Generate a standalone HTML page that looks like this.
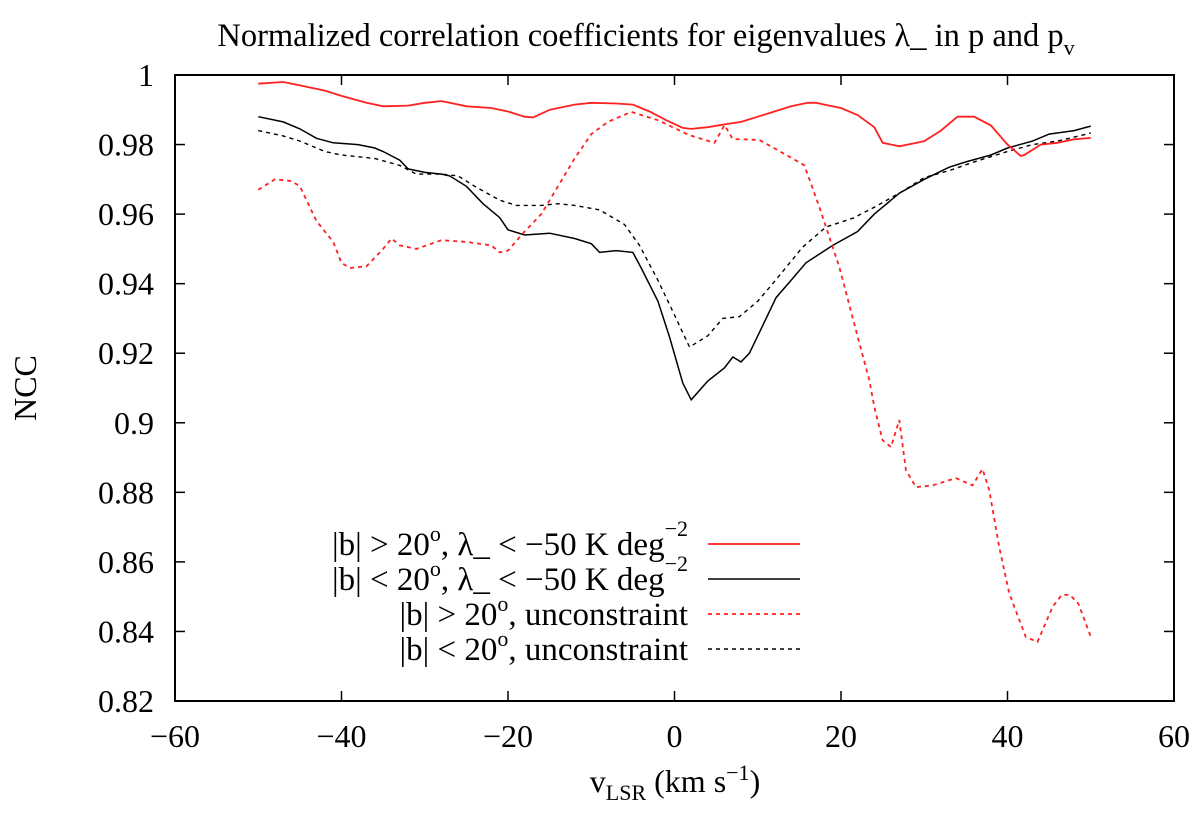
<!DOCTYPE html>
<html><head><meta charset="utf-8"><style>
body{margin:0;background:#fff;}
svg text{font-family:"Liberation Serif",serif;fill:#000;}
</style></head><body>
<svg id="chart" width="1200" height="816" viewBox="0 0 1200 816">
<text x="646" y="46" font-size="32.5" text-anchor="middle">Normalized correlation coefficients for eigenvalues λ_ in p and p<tspan font-size="22" dy="9">v</tspan></text>
<g id="axes"></g>
<g id="series"></g>
<text x="675" y="792" font-size="32" text-anchor="middle">v<tspan font-size="22" dy="8">LSR</tspan><tspan dy="-8"> (km s</tspan><tspan font-size="22" dy="-12">−1</tspan><tspan dy="12">)</tspan></text>
<text transform="translate(36,388) rotate(-90)" font-size="32" text-anchor="middle">NCC</text>
<g id="legend">
<text x="688" y="555" font-size="33" text-anchor="end">|b| &gt; 20<tspan font-size="22" dy="-14">o</tspan><tspan dy="14">, λ_ &lt; −50 K deg</tspan><tspan font-size="22" dy="-19">−2</tspan></text>
<text x="688" y="590" font-size="33" text-anchor="end">|b| &lt; 20<tspan font-size="22" dy="-14">o</tspan><tspan dy="14">, λ_ &lt; −50 K deg</tspan><tspan font-size="22" dy="-19">−2</tspan></text>
<text x="688" y="625" font-size="33" text-anchor="end">|b| &gt; 20<tspan font-size="22" dy="-14">o</tspan><tspan dy="14">, unconstraint</tspan></text>
<text x="688" y="660" font-size="33" text-anchor="end">|b| &lt; 20<tspan font-size="22" dy="-14">o</tspan><tspan dy="14">, unconstraint</tspan></text>
<line x1="708" y1="544" x2="800" y2="544" stroke="#ff2020" stroke-width="1.8"/>
<line x1="708" y1="579" x2="800" y2="579" stroke="#000" stroke-width="1.4"/>
<line x1="708" y1="614" x2="800" y2="614" stroke="#ff2020" stroke-width="1.8" stroke-dasharray="4,4"/>
<line x1="708" y1="649" x2="800" y2="649" stroke="#000" stroke-width="1.4" stroke-dasharray="4,4"/>
</g>
</svg>
<script>
const xTicks=[-60,-40,-20,0,20,40,60];
const yTicks=[0.82,0.84,0.86,0.88,0.9,0.92,0.94,0.96,0.98,1];
const yTickLabels=["0.82","0.84","0.86","0.88","0.9","0.92","0.94","0.96","0.98","1"];
const xTickLabels=["−60","−40","−20","0","20","40","60"];
const redSolidX=[-50,-47,-45,-42,-40,-37,-35,-32,-30,-28,-27,-25,-22,-20,-18,-17,-15,-12,-10,-7,-5,-3,-1,1,2,4,6,8,10,12,14,16,17,18,20,22,24,25,27,28,30,32,34,36,38,40,41.6,42,44,46,48,50];
const redSolidY=[0.9975,0.998,0.997,0.9955,0.994,0.992,0.991,0.9912,0.992,0.9925,0.992,0.991,0.9905,0.9895,0.988,0.9878,0.99,0.9915,0.992,0.9918,0.9915,0.9895,0.987,0.9848,0.9845,0.985,0.9858,0.9865,0.988,0.9895,0.991,0.992,0.992,0.9915,0.9905,0.9885,0.985,0.9805,0.9795,0.98,0.981,0.984,0.988,0.988,0.9855,0.98,0.9767,0.977,0.98,0.9805,0.9815,0.9819];
const blackSolidX=[-50,-47,-45,-43,-41,-38,-36,-35,-33,-32,-30,-28,-27,-25,-23,-21,-20,-18,-15,-12,-10,-9,-7,-5,-4,-2,-0.6,1,2,4,6,7,8,9,10,12.2,14,15.8,19,22,24,27,30,33,35,38,40,43,45,48,50];
const blackSolidY=[0.988,0.9865,0.9845,0.9818,0.9805,0.98,0.979,0.978,0.9755,0.973,0.972,0.9715,0.971,0.968,0.963,0.959,0.9555,0.954,0.9545,0.953,0.9515,0.949,0.9495,0.949,0.9445,0.935,0.9247,0.9114,0.9066,0.912,0.9158,0.9189,0.9175,0.92,0.925,0.936,0.941,0.946,0.951,0.955,0.96,0.966,0.97,0.9735,0.975,0.977,0.979,0.981,0.983,0.984,0.9853];
const blackDashX=[-50,-47,-45,-42,-40,-36,-33,-31,-28,-26,-24,-21,-19,-16,-14,-12,-9,-6,-4.2,-2,0,1.8,4,5.8,7.8,10,11.8,15.4,18.2,21.4,24,27,30,33,36,40,43,46,50];
const blackDashY=[0.984,0.9825,0.981,0.978,0.977,0.976,0.974,0.9715,0.9715,0.971,0.968,0.964,0.9625,0.9625,0.963,0.9625,0.9612,0.957,0.951,0.941,0.931,0.9218,0.925,0.93,0.9305,0.935,0.94,0.9505,0.9563,0.9588,0.962,0.966,0.9705,0.9725,0.975,0.978,0.98,0.981,0.9833];
const redDashX=[-50,-48,-46,-45,-43,-41,-40,-39,-37,-35,-34,-33,-31,-28,-25,-22,-21,-20,-18,-16,-14,-12,-10,-8,-5.2,-2,1.8,4.8,6,7,10.2,13.8,15.6,17.4,19.8,22.2,23.4,24,25,26,27,27.8,29,31,33.8,35.8,37,37.8,39,40.2,42.2,43.6,45.4,46.5,47.5,48.5,50];
const redDashY=[0.967,0.97,0.9695,0.968,0.958,0.952,0.946,0.9445,0.945,0.95,0.953,0.951,0.95,0.9525,0.952,0.951,0.949,0.9495,0.955,0.96,0.968,0.976,0.983,0.9865,0.9894,0.987,0.9827,0.9805,0.9856,0.9816,0.9813,0.9765,0.974,0.962,0.9448,0.923,0.9123,0.9046,0.895,0.893,0.9008,0.8864,0.8815,0.882,0.8841,0.882,0.8867,0.8807,0.8643,0.851,0.8384,0.837,0.847,0.8505,0.8505,0.848,0.8385];

const L=175,R=1174,T=75,B=701;
const xs=v=>L+(v+60)/120*(R-L);
const ys=v=>B-(v-0.82)/0.18*(B-T);
const NS="http://www.w3.org/2000/svg";
const axes=document.getElementById('axes');
const series=document.getElementById('series');
function mk(tag,attrs,parent){const e=document.createElementNS(NS,tag);for(const k in attrs)e.setAttribute(k,attrs[k]);parent.appendChild(e);return e;}
const frame=mk('rect',{x:L,y:T,width:R-L,height:B-T,fill:'none',stroke:'#000','stroke-width':2},axes);


xTicks.forEach((t,i)=>{
  const x=xs(t);
  const a=mk('line',{x1:x,y1:B,x2:x,y2:B-10,stroke:'#000','stroke-width':1.5},axes);
  
  
  const b=mk('line',{x1:x,y1:T,x2:x,y2:T+10,stroke:'#000','stroke-width':1.5},axes);
  
  
  const tx=mk('text',{x:x,y:747,'font-size':32,'text-anchor':'middle'},axes);
  tx.textContent=xTickLabels[i];
  
  
});
yTicks.forEach((t,i)=>{
  const y=ys(t);
  const a=mk('line',{x1:L,y1:y,x2:L+10,y2:y,stroke:'#000','stroke-width':1.5},axes);
  
  
  const b=mk('line',{x1:R,y1:y,x2:R-10,y2:y,stroke:'#000','stroke-width':1.5},axes);
  
  
  const tx=mk('text',{x:154,y:y+11,'font-size':32,'text-anchor':'end'},axes);
  tx.textContent=yTickLabels[i];
  
  
});
function line(X,Y,color,dash,w,name){
  const d=X.map((x,i)=>(i?'L':'M')+xs(x).toFixed(1)+' '+ys(Y[i]).toFixed(1)).join(' ');
  const p=mk('path',{d:d,fill:'none',stroke:color,'stroke-width':w},series);
  if(dash)p.setAttribute('stroke-dasharray',dash);
  
  
}
line(blackDashX,blackDashY,'#000','4,4',1.4,'series-black-dashed');
line(blackSolidX,blackSolidY,'#000',null,1.5,'series-black-solid');
line(redDashX,redDashY,'#ff2020','4,4',1.8,'series-red-dashed');
line(redSolidX,redSolidY,'#ff2020',null,1.8,'series-red-solid');
</script>
</body></html>
